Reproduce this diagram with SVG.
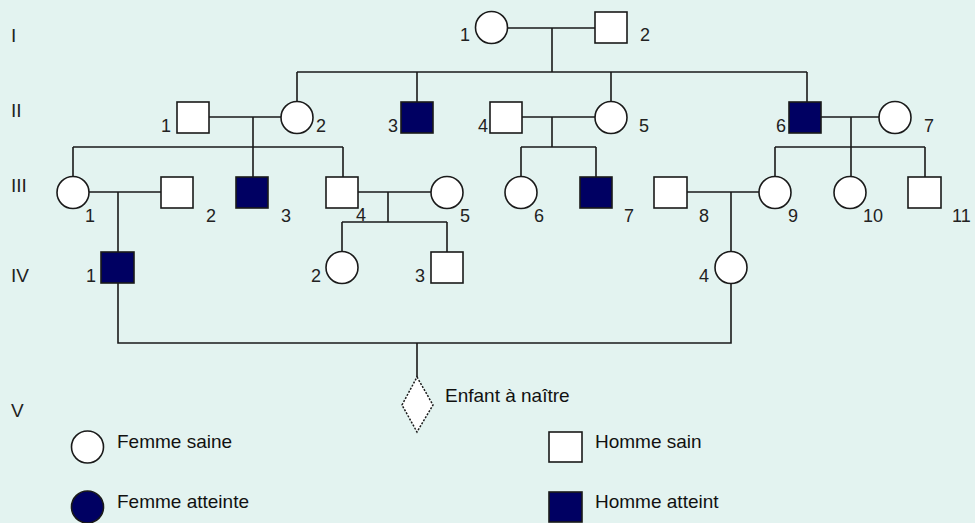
<svg xmlns="http://www.w3.org/2000/svg" width="975" height="523" viewBox="0 0 975 523">
<style>
.bg{fill:#E3F3F0}
.sq,.ci{fill:#ffffff;stroke:#1a1a1a;stroke-width:1.6}
.aff{fill:#000062}
.ln{fill:none;stroke:#1a1a1a;stroke-width:1.6}
.num{font-family:"Liberation Sans",Arial,sans-serif;font-size:18px;fill:#222}
.gen{font-family:"Liberation Sans",Arial,sans-serif;font-size:19px;fill:#222}
.lg{font-family:"Liberation Sans",Arial,sans-serif;font-size:19px;fill:#111}
.dia{fill:#ffffff;stroke:#1a1a1a;stroke-width:1.5;stroke-dasharray:2 1.5}
</style>
<rect class="bg" x="0" y="0" width="975" height="523"/>
<g id="generations">
<text class="gen" x="11" y="42">I</text>
<text class="gen" x="11" y="117">II</text>
<text class="gen" x="11" y="192">III</text>
<text class="gen" x="11" y="282">IV</text>
<text class="gen" x="11" y="417">V</text>
</g>
<g id="connectors">
<path class="ln" d="M508 28H595M552 28V72"/>
<path class="ln" d="M297 72H807M297 72V102M417 72V102M611 72V102M807 72V102"/>
<path class="ln" d="M209 117H281M253 117V147M73 147H343M73 147V177M253 147V177M343 147V177"/>
<path class="ln" d="M522 117H595M552 117V147M521 147H596M521 147V177M596 147V177"/>
<path class="ln" d="M821 117H879M851 117V177M775 147H925M775 147V177M925 147V177"/>
<path class="ln" d="M89 192H161M118 192V252"/>
<path class="ln" d="M358 192H431M388 192V222M342 222H447M342 222V252M447 222V252"/>
<path class="ln" d="M687 192H759M731 192V252"/>
<path class="ln" d="M118 283V343H731V283M417 343V377"/>
</g>
<g id="I-1"><circle class="ci" cx="491.5" cy="27.5" r="16"/><text class="num" x="470" y="41" text-anchor="end">1</text></g>
<g id="I-2"><rect class="sq" x="595" y="12" width="32" height="31"/><text class="num" x="640" y="41">2</text></g>
<g id="II-1"><rect class="sq" x="177" y="102" width="32" height="31"/><text class="num" x="171" y="132" text-anchor="end">1</text></g>
<g id="II-2"><circle class="ci" cx="297" cy="117.5" r="16"/><text class="num" x="316" y="132">2</text></g>
<g id="II-3"><rect class="sq aff" x="401" y="102" width="32" height="31"/><text class="num" x="398" y="132" text-anchor="end">3</text></g>
<g id="II-4"><rect class="sq" x="490" y="102" width="32" height="31"/><text class="num" x="488" y="132" text-anchor="end">4</text></g>
<g id="II-5"><circle class="ci" cx="611" cy="117.5" r="16"/><text class="num" x="639" y="132">5</text></g>
<g id="II-6"><rect class="sq aff" x="789" y="102" width="32" height="31"/><text class="num" x="786" y="132" text-anchor="end">6</text></g>
<g id="II-7"><circle class="ci" cx="895" cy="117.5" r="16"/><text class="num" x="924" y="132">7</text></g>
<g id="III-1"><circle class="ci" cx="73" cy="192.5" r="16"/><text class="num" x="85" y="222">1</text></g>
<g id="III-2"><rect class="sq" x="161" y="177" width="32" height="31"/><text class="num" x="206" y="222">2</text></g>
<g id="III-3"><rect class="sq aff" x="236" y="177" width="32" height="31"/><text class="num" x="281" y="222">3</text></g>
<g id="III-4"><rect class="sq" x="326" y="177" width="32" height="31"/><text class="num" x="356" y="221">4</text></g>
<g id="III-5"><circle class="ci" cx="447" cy="192.5" r="16"/><text class="num" x="460" y="222">5</text></g>
<g id="III-6"><circle class="ci" cx="521" cy="192.5" r="16"/><text class="num" x="534" y="222">6</text></g>
<g id="III-7"><rect class="sq aff" x="580" y="177" width="32" height="31"/><text class="num" x="624" y="222">7</text></g>
<g id="III-8"><rect class="sq" x="654" y="177" width="33" height="31"/><text class="num" x="699" y="222">8</text></g>
<g id="III-9"><circle class="ci" cx="775" cy="192.5" r="16"/><text class="num" x="788" y="222">9</text></g>
<g id="III-10"><circle class="ci" cx="850" cy="192.5" r="16"/><text class="num" x="863" y="222">10</text></g>
<g id="III-11"><rect class="sq" x="908" y="177" width="33" height="31"/><text class="num" x="952" y="222">11</text></g>
<g id="IV-1"><rect class="sq aff" x="101" y="252" width="33" height="31"/><text class="num" x="96" y="282" text-anchor="end">1</text></g>
<g id="IV-2"><circle class="ci" cx="342" cy="267.5" r="16"/><text class="num" x="311" y="282">2</text></g>
<g id="IV-3"><rect class="sq" x="431" y="252" width="32" height="31"/><text class="num" x="415" y="282">3</text></g>
<g id="IV-4"><circle class="ci" cx="731" cy="267.5" r="16"/><text class="num" x="699" y="282">4</text></g>
<g id="V-1"><polygon class="dia" points="417,377 433,405 417,432 402,405"/><text class="lg" x="445" y="402">Enfant à naître</text></g>
<g id="legend">
<g id="legend-femme-saine"><circle class="ci" cx="87.5" cy="447" r="16"/><text class="lg" x="117" y="448">Femme saine</text></g>
<g id="legend-femme-atteinte"><circle class="ci aff" cx="87.5" cy="507" r="16"/><text class="lg" x="117" y="508">Femme atteinte</text></g>
<g id="legend-homme-sain"><rect class="sq" x="549" y="432" width="33" height="30"/><text class="lg" x="595" y="448">Homme sain</text></g>
<g id="legend-homme-atteint"><rect class="sq aff" x="549" y="492" width="33" height="30"/><text class="lg" x="595" y="508">Homme atteint</text></g>
</g>
</svg>
